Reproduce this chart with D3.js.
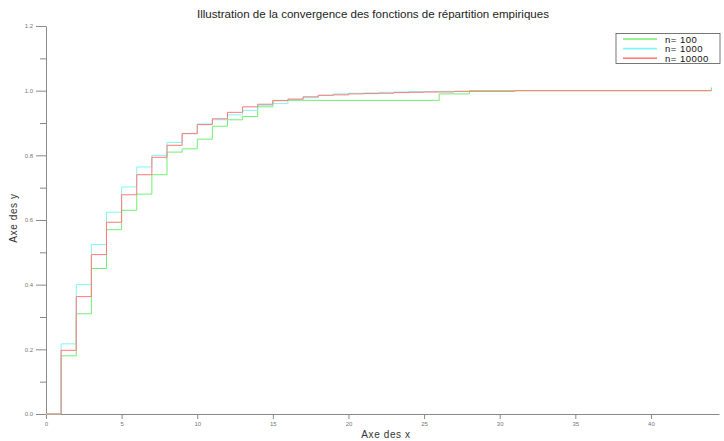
<!DOCTYPE html>
<html>
<head>
<meta charset="utf-8">
<script src="https://cdn.jsdelivr.net/npm/d3@7"></script>
<style>
    body { margin: 0; background: #fff; }
    svg { display: block; font-family: "Liberation Sans", Arial, sans-serif; }
</style>
</head>
<body>
<div id="graph"></div>
<script>
"use strict";

// step positions (x) and cumulative frequencies for each sample size
const x100 = [0, 1, 2, 3, 4, 5, 6, 7, 8, 9, 10, 11, 12, 13, 14, 15, 26, 28, 44];
const y100 = [0, 0.18, 0.31, 0.45, 0.57, 0.63, 0.68, 0.74, 0.81, 0.82, 0.85, 0.89, 0.91, 0.92, 0.95, 0.97, 0.99, 1.0, 1.01];

const x1000 = [0, 1, 2, 3, 4, 5, 6, 7, 8, 9, 10, 11, 12, 13, 14, 15, 16, 17, 18, 19, 20, 21, 22, 23, 24, 26, 28];
const y1000 = [0, 0.217, 0.40, 0.524, 0.624, 0.702, 0.764, 0.80, 0.84, 0.868, 0.897, 0.910, 0.925, 0.939, 0.955, 0.960, 0.972, 0.978, 0.985, 0.990, 0.992, 0.993, 0.995, 0.996, 0.997, 0.998, 1.0];

const x10000 = [0, 1, 2, 3, 4, 5, 6, 7, 8, 9, 10, 11, 12, 13, 14, 15, 16, 17, 18, 19, 20, 21, 22, 23, 24, 25, 27, 31, 44];
const y10000 = [0, 0.197, 0.363, 0.493, 0.593, 0.678, 0.740, 0.794, 0.831, 0.867, 0.895, 0.913, 0.933, 0.950, 0.958, 0.969, 0.974, 0.981, 0.986, 0.987, 0.990, 0.991, 0.992, 0.994, 0.995, 0.996, 0.998, 1.0, 1.0];

const seriesNames = ["n= 100", "n= 1000", "n= 10000"];
const xTicks = [0, 5, 10, 15, 20, 25, 30, 35, 40];
const yTicks = [0, 0.2, 0.4, 0.6, 0.8, 1.0, 1.2];
const yMinor = [0.1, 0.3, 0.5, 0.7, 0.9, 1.1];

const title = "Illustration de la convergence des fonctions de répartition empiriques";

(function() {
    const W = 724, H = 441;
    const colors = ["#70f070", "#80f6f6", "#ff7878"];
    const axisColor = "#8a8a8a";

    const svg = d3.select("#graph").append("svg")
        .attr("width", W)
        .attr("height", H);

    const xScale = d3.scaleLinear().domain([0, 44.5]).range([46, 719]);
    const yScale = d3.scaleLinear().domain([0, 1.2]).range([414, 26]);

    // y axis, minor ticks first
    svg.append("g")
        .attr("transform", "translate(46,0)")
        .call(d3.axisLeft(yScale).tickValues(yMinor).tickSize(6).tickSizeOuter(0).tickFormat(""))
        .call(g => g.select(".domain").remove());
    const yAx = svg.append("g")
        .attr("transform", "translate(46,0)")
        .call(d3.axisLeft(yScale).tickValues(yTicks).tickSize(10).tickSizeOuter(0)
            .tickPadding(3).tickFormat(d3.format(".1f")));

    const xAx = svg.append("g")
        .attr("transform", "translate(0,414)")
        .call(d3.axisBottom(xScale).tickValues(xTicks).tickSize(5).tickSizeOuter(0)
            .tickPadding(3).tickFormat(d3.format("d")));

    svg.selectAll(".domain, .tick line").attr("stroke", axisColor);
    [xAx, yAx].forEach(a => a.selectAll("text")
        .attr("fill", "#777")
        .style("font-size", "6px"));

    // empirical distribution functions
    const line = d3.line()
        .x(d => xScale(d[0]))
        .y(d => yScale(d[1]))
        .curve(d3.curveStepAfter);

    const data = [
        d3.zip(x100, y100),
        d3.zip(x1000, y1000),
        d3.zip(x10000, y10000)
    ];

    svg.selectAll("path.ecdf")
        .data(data)
        .enter()
        .append("path")
            .attr("class", "ecdf")
            .attr("d", line)
            .attr("fill", "none")
            .attr("stroke", (d, i) => colors[i])
            .attr("stroke-width", 1);

    // title and axis labels
    svg.append("text")
        .attr("x", 373)
        .attr("y", 18)
        .attr("text-anchor", "middle")
        .attr("textLength", 352)
        .attr("lengthAdjust", "spacingAndGlyphs")
        .style("font-size", "10.5px")
        .attr("fill", "#222")
        .text(title);

    svg.append("text")
        .attr("x", 386)
        .attr("y", 438)
        .attr("text-anchor", "middle")
        .style("font-size", "10px")
        .style("letter-spacing", "0.6px")
        .attr("fill", "#333")
        .text("Axe des x");

    svg.append("text")
        .attr("transform", "translate(17,218) rotate(-90)")
        .attr("text-anchor", "middle")
        .style("font-size", "10px")
        .style("letter-spacing", "0.6px")
        .attr("fill", "#333")
        .text("Axe des y");

    // legend
    const leg = svg.append("g").attr("transform", "translate(616,33.5)");
    leg.append("rect")
        .attr("width", 104)
        .attr("height", 30)
        .attr("fill", "#fff")
        .attr("stroke", "#555")
        .attr("stroke-width", 0.8);
    const rows = leg.selectAll("g.row")
        .data(seriesNames)
        .enter()
        .append("g")
            .attr("class", "row")
            .attr("transform", (d, i) => "translate(0," + (5.5 + i * 9.6) + ")");
    rows.append("line")
        .attr("x1", 7).attr("x2", 41)
        .attr("stroke", (d, i) => colors[i])
        .attr("stroke-width", 1.6);
    rows.append("text")
        .attr("x", 49)
        .attr("y", 3.5)
        .style("font-size", "9.5px")
        .style("letter-spacing", "0.5px")
        .attr("fill", "#111")
        .text(d => d);
})();
</script>
</body>
</html>
